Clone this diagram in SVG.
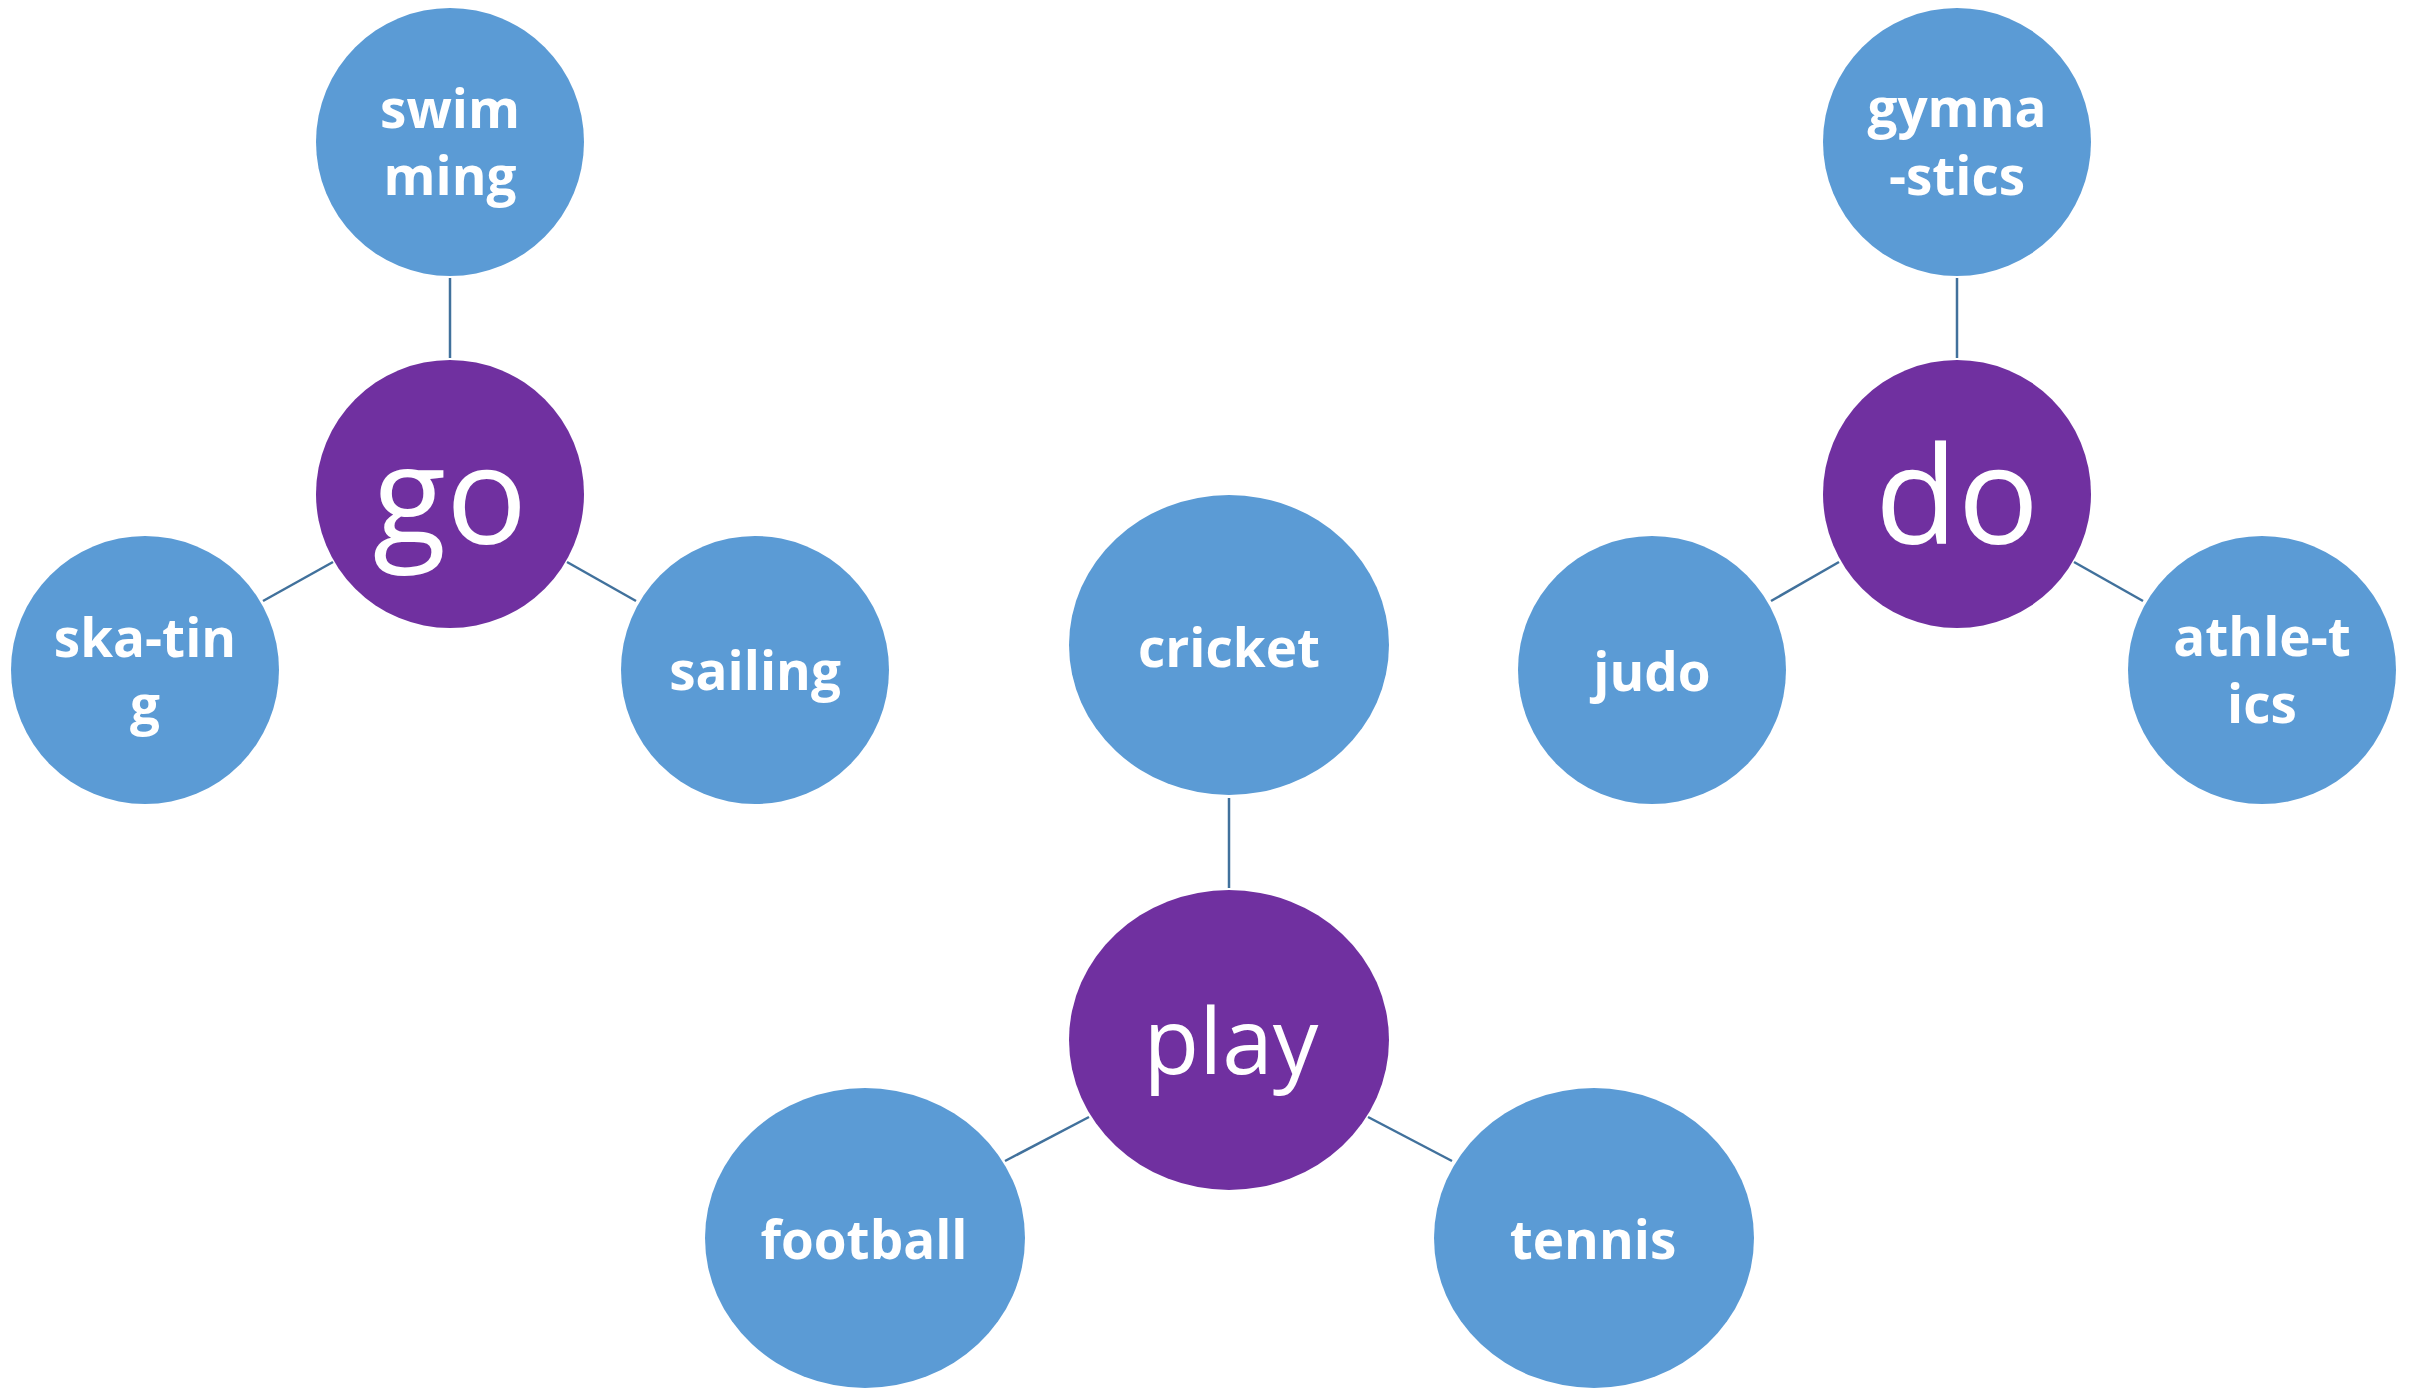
<svg xmlns="http://www.w3.org/2000/svg" width="2412" height="1390" viewBox="0 0 2412 1390">
<style>
.leaf{fill:#5B9BD5}
.hub{fill:#7030A0}
.lt{font-family:"Open Sans","Noto Sans","Liberation Sans",sans-serif;font-weight:bold;font-size:53px;fill:#fff;text-anchor:middle}
.ht{font-family:"Open Sans","Noto Sans","Liberation Sans",sans-serif;font-weight:normal;fill:#fff;text-anchor:middle}
.con line{stroke:#41719C;stroke-width:2.5}
</style>
<rect width="2412" height="1390" fill="#fff"/>
<g id="connectors" class="con">
<line x1="450" y1="278" x2="450" y2="358"/>
<line x1="333" y1="562" x2="263" y2="601"/>
<line x1="567" y1="562" x2="636" y2="601"/>
<line x1="1957" y1="278" x2="1957" y2="358"/>
<line x1="1839" y1="562" x2="1771" y2="601"/>
<line x1="2074" y1="562" x2="2143" y2="601"/>
<line x1="1229" y1="798" x2="1229" y2="888"/>
<line x1="1089" y1="1117" x2="1005" y2="1161"/>
<line x1="1368" y1="1117" x2="1452" y2="1161"/>
</g>
<g id="swimming"><circle class="leaf" cx="450" cy="142" r="134"/><text class="lt" x="450" y="128">swim</text><text class="lt" x="450" y="195">ming</text></g>
<g id="go"><circle class="hub" cx="450" cy="494" r="134"/><text class="ht" x="450" y="544" font-size="135">go</text></g>
<g id="skating"><circle class="leaf" cx="145" cy="670" r="134"/><text class="lt" x="145" y="657">ska-tin</text><text class="lt" x="145" y="724">g</text></g>
<g id="sailing"><circle class="leaf" cx="755" cy="670" r="134"/><text class="lt" x="755" y="690">sailing</text></g>
<g id="gymnastics"><circle class="leaf" cx="1957" cy="142" r="134"/><text class="lt" x="1957" y="127">gymna</text><text class="lt" x="1957" y="195">-stics</text></g>
<g id="do"><circle class="hub" cx="1957" cy="494" r="134"/><text class="ht" x="1957" y="544" font-size="135">do</text></g>
<g id="judo"><circle class="leaf" cx="1652" cy="670" r="134"/><text class="lt" x="1652" y="691">judo</text></g>
<g id="athletics"><circle class="leaf" cx="2262" cy="670" r="134"/><text class="lt" x="2262" y="656">athle-t</text><text class="lt" x="2262" y="723">ics</text></g>
<g id="cricket"><ellipse class="leaf" cx="1229" cy="645" rx="160" ry="150"/><text class="lt" x="1229" y="667">cricket</text></g>
<g id="play"><ellipse class="hub" cx="1229" cy="1040" rx="160" ry="150"/><text class="ht" x="1231" y="1074" font-size="91">play</text></g>
<g id="football"><ellipse class="leaf" cx="865" cy="1238" rx="160" ry="150"/><text class="lt" x="864" y="1259">football</text></g>
<g id="tennis"><ellipse class="leaf" cx="1594" cy="1238" rx="160" ry="150"/><text class="lt" x="1593" y="1259">tennis</text></g>
</svg>
